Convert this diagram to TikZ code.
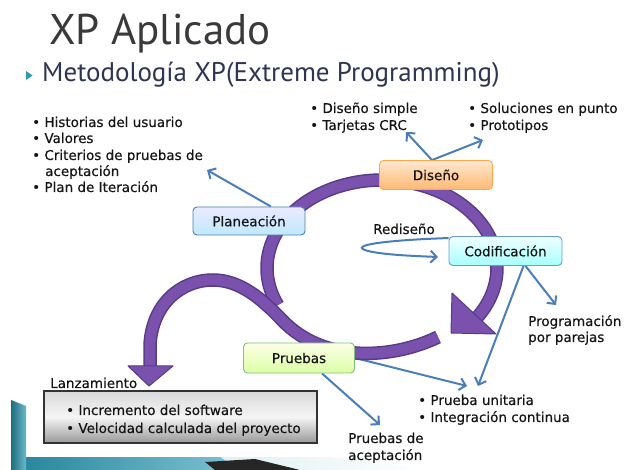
\documentclass[tikz,border=0pt]{standalone}
\usepackage{fontspec}
\setmainfont{DejaVu Sans}
\newfontfamily\titlef{PT Sans}
\usetikzlibrary{arrows.meta}
\pgfdeclarelayer{bg}
\pgfsetlayers{bg,main}
\definecolor{titlegray}{HTML}{3A3A3A}
\definecolor{subnavy}{HTML}{2E3552}
\definecolor{teal}{HTML}{2A9BB5}
\definecolor{arrowblue}{HTML}{4A7EBB}
\definecolor{purplecore}{HTML}{7A52AE}
\definecolor{purpleedge}{HTML}{583A8A}
\definecolor{txtcol}{HTML}{141414}
\newcommand{\bodyfont}{\fontsize{13.5}{16}\selectfont\addfontfeatures{FakeBold=0.35}}
\begin{document}
\begin{tikzpicture}[x=1pt,y=-1pt,
  txt/.style={anchor=base west, inner sep=0pt, font=\bodyfont, text=txtcol},
  box/.style={draw, rounded corners=4pt, line width=0.9pt, inner sep=0pt,
    minimum width=113pt, minimum height=29pt, font=\bodyfont, text=txtcol},
  barrow/.style={draw=arrowblue, line width=2pt, -{Straight Barb[length=6pt,width=12pt]}},
  band/.style={draw=purplecore, line width=10.5pt, preaction={draw=purpleedge, line width=13.5pt}},
  head/.style={fill=purplecore, draw=purpleedge, line width=1pt, line join=round}
]
\useasboundingbox (0,0) rectangle (627,470);

% title
\node[anchor=base west, inner sep=0pt, font=\titlef\fontsize{43}{50}\selectfont, text=titlegray] (title) at (49,45) {XP Aplicado};
\node[anchor=base west, inner sep=0pt, font=\titlef\fontsize{27}{32}\selectfont, text=subnavy] (subtitle) at (42,82) {Metodología XP(Extreme Programming)};

% boxes
\node[box, top color=orange!18, bottom color=orange!55, draw=orange!70] (dis) at (436,175) {Diseño};
\node[box, minimum width=112pt, minimum height=28pt, top color=blue!8, bottom color=blue!35!cyan!25, draw=arrowblue] (plan) at (249,221) {Planeación};
\node[box, top color=cyan!6, bottom color=cyan!35, draw=cyan!50!blue!60] (cod) at (505.5,251) {Codificación};
\node[box, minimum width=111pt, minimum height=30pt, top color=green!8!yellow!10, bottom color=green!40!yellow!35, draw=green!50!black!50] (prue) at (299,358) {Pruebas};
\node[draw=black!80, line width=1.2pt, inner sep=0pt, minimum width=273pt, minimum height=52pt,
  top color=black!15, bottom color=black!40, middle color=black!4] (lanzbox) at (180.5,417) {};

% texts
\node[txt] (h1) at (32,127) {• Historias del usuario};
\node[txt] (h2) at (32,143) {• Valores};
\node[txt] (h3) at (32,160) {• Criterios de pruebas de};
\node[txt] (h4) at (45,176) {aceptación};
\node[txt] (h5) at (32,192) {• Plan de Iteración};
\node[txt] (d1) at (310,113) {• Diseño simple};
\node[txt] (d2) at (310,130) {• Tarjetas CRC};
\node[txt] (s1) at (468,113) {• Soluciones en punto};
\node[txt] (s2) at (468,130) {• Prototipos};
\node[txt] (red) at (373,234) {Rediseño};
\node[txt] (pp1) at (528,326) {Programación};
\node[txt] (pp2) at (528,342) {por parejas};
\node[txt] (pu1) at (418,405) {• Prueba unitaria};
\node[txt] (pu2) at (418,422) {• Integración continua};
\node[txt] (pa1) at (348,443) {Pruebas de};
\node[txt] (pa2) at (348,460) {aceptación};
\node[txt] (lanz) at (50,388) {Lanzamiento};
\node[txt] (l1) at (66,415) {• Incremento del software};
\node[txt] (l2) at (66,433) {• Velocidad calculada del proyecto};

% arrow tips
\coordinate (tcrc) at (406,132);
\coordinate (tpro) at (483,140);
\coordinate (tplan) at (207,170);
\coordinate (tprog) at (556,305);
\coordinate (tpu1) at (478,386);
\coordinate (tpu2) at (467,386);
\coordinate (tpa) at (380,425);
\coordinate (tred) at (438,257);

\begin{pgfonlayer}{bg}
\fill[white] (0,0) rectangle (627,470);
% bottom-left decoration
\shade[left color=teal!30, right color=white] (11,457) -- (330,457) -- (430,470) -- (11,470) -- cycle;
\shade[left color=teal!85!black, right color=teal!60] (11,457) -- (220,457) -- (240,470) -- (11,470) -- cycle;
\fill[black!85] (205,462) -- (255,459) -- (300,470) -- (215,470) -- cycle;
\shade[left color=teal!70!black, right color=teal!70] (11,400) -- (26,406) -- (26,470) -- (11,470) -- cycle;
\fill[teal] (26,71) -- (32.5,75.5) -- (26,80) -- cycle;

\draw[barrow] ([xshift=-4pt]dis.north) -- (tcrc);
\draw[barrow] ([xshift=-4pt]dis.north) -- (tpro);
\draw[barrow] ([xshift=22pt]plan.north) -- (tplan);
\draw[barrow] ([yshift=-2pt]cod.north west) .. controls (390,240) and (345,245) .. (368,251) .. controls (385,255) and (415,256) .. (tred);
\draw[barrow] ([xshift=20pt]cod.south) -- (tprog);
\draw[barrow] ([xshift=18pt]cod.south) -- (tpu1);
\draw[barrow] (prue.east) -- (tpu2);
\draw[barrow] ([xshift=23pt]prue.south) -- (tpa);

% purple cycle
\draw[band] plot[domain=155:397, samples=80, smooth] ({382+115*cos(\x)},{268+88*sin(\x)});
\draw[head] (452,293) -- (451,333) -- (496,334) -- cycle;
\draw[band] (438,337) .. controls (395,358) and (325,365) .. (282,320) .. controls (262,299) and (240,280) .. (213,280) .. controls (180,280) and (152,305) .. (150,345) -- (150,368);
\draw[head] (128,366) -- (173,366) -- (149,386) -- cycle;
\end{pgfonlayer}
\end{tikzpicture}
\end{document}
